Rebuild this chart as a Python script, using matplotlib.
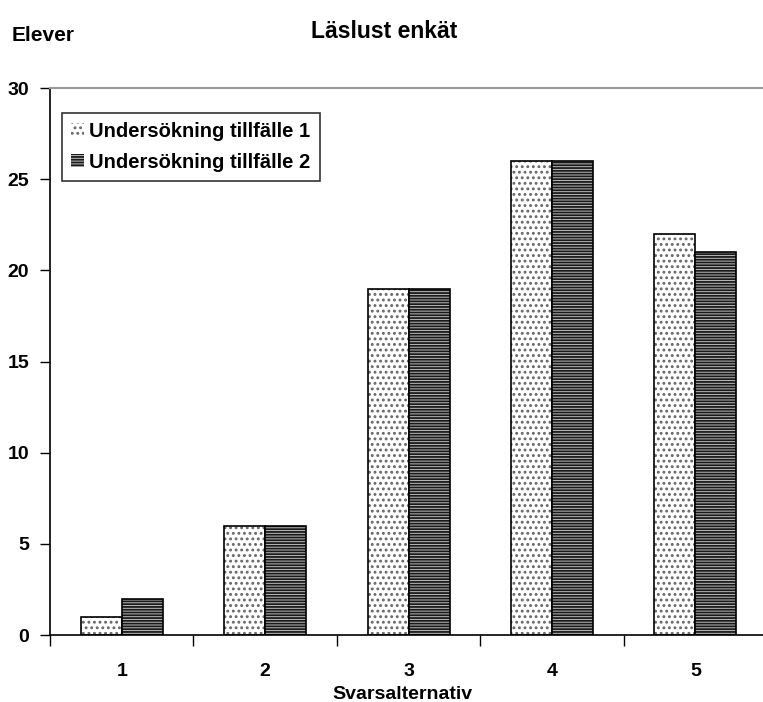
import numpy as np
import matplotlib.pyplot as plt

plt.rcParams['font.family'] = ['Liberation Sans', 'DejaVu Sans']
plt.rcParams['font.weight'] = 'bold'
plt.rcParams['hatch.linewidth'] = 1.3

categories = ['1', '2', '3', '4', '5']
tillfalle1 = [1, 6, 19, 26, 22]
tillfalle2 = [2, 6, 19, 26, 21]
labels = ['Undersökning tillfälle 1', 'Undersökning tillfälle 2']

fig = plt.figure(figsize=(7.63, 7.02), dpi=100)
ax = fig.add_axes([0.0655, 0.0954, 0.94, 0.7792])

x = np.arange(len(categories))
w = 0.286

# fill + hatch first, then a plain black outline on top
h1 = ax.bar(x - w/2, tillfalle1, w, color='white', edgecolor='#666666', hatch='...', linewidth=0)
ax.bar(x - w/2, tillfalle1, w, fill=False, edgecolor='black', linewidth=1.2)
h2 = ax.bar(x + w/2, tillfalle2, w, color='#bdbdbd', edgecolor='#1a1a1a', hatch='------', linewidth=0)
ax.bar(x + w/2, tillfalle2, w, fill=False, edgecolor='black', linewidth=1.2)

ax.set_xlim(-0.5, 4.5)
ax.set_ylim(0, 30)
ax.set_yticks(range(0, 31, 5))
ax.set_xticks(x)
ax.set_xticklabels(categories, fontsize=14, fontweight='bold')
ax.set_xticks(np.arange(-0.5, 5, 1), minor=True)
ax.tick_params(axis='x', which='major', length=0, pad=20)
ax.tick_params(axis='x', which='minor', length=8, width=1, direction='out')
ax.tick_params(axis='y', length=7, width=1, direction='out', labelsize=14, pad=8)
for t in ax.get_yticklabels():
    t.set_fontweight('bold')

ax.spines['right'].set_visible(False)
ax.spines['top'].set_color('#999999')
ax.spines['top'].set_linewidth(1.5)
ax.spines['left'].set_linewidth(1.2)
ax.spines['bottom'].set_linewidth(1.2)

fig.text(0.527, 0.011, 'Svarsalternativ', ha='center', va='center', fontsize=14, fontweight='bold')
fig.text(0.504, 0.955, 'Läslust enkät', ha='center', va='center', fontsize=16.5, fontweight='bold')
fig.text(0.015, 0.95, 'Elever', ha='left', va='center', fontsize=15, fontweight='bold')

leg = ax.legend([h1, h2], labels, loc='upper left', bbox_to_anchor=(0.017, 0.955),
                fontsize=14.5, frameon=True, fancybox=False, borderaxespad=0,
                handlelength=0.65, handleheight=0.65, handletextpad=0.25,
                borderpad=0.45, labelspacing=0.6)
leg.get_frame().set_edgecolor('black')
leg.get_frame().set_linewidth(1.2)
for t in leg.get_texts():
    t.set_fontweight('bold')

fig.savefig('out.png', dpi=100)
